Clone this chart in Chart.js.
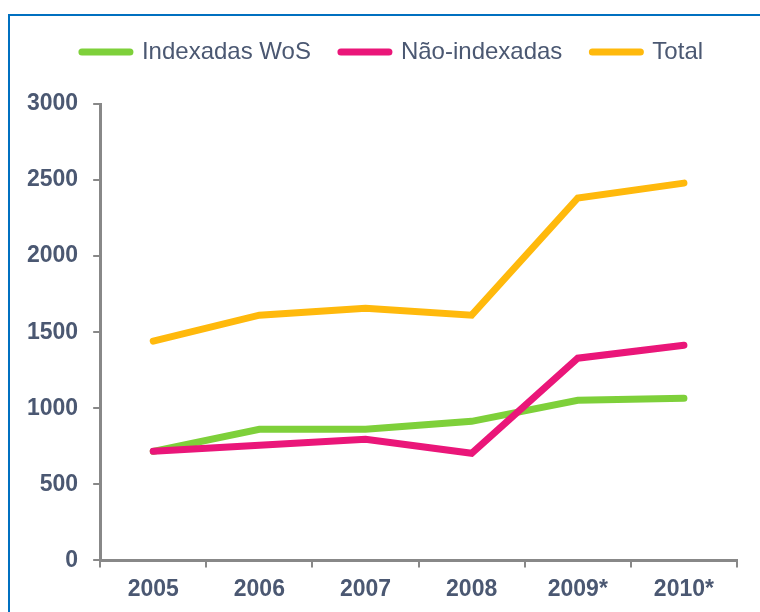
<!DOCTYPE html>
<html>
<head>
<meta charset="utf-8">
<script src="https://cdn.jsdelivr.net/npm/chart.js@4.4.0/dist/chart.umd.min.js"></script>
<style>
  html, body { margin: 0; padding: 0; background: #fff; overflow: hidden; }
  #frame {
    position: absolute; left: 8px; top: 14px; width: 800px; height: 700px;
    border-left: 2px solid #0070C0; border-top: 2px solid #0070C0;
  }
  #wrap { position: absolute; left: 0; top: 0; width: 760px; height: 612px; }
</style>
</head>
<body>
<div id="frame"></div>
<div id="wrap"><canvas id="chart" width="760" height="612"></canvas></div>
<script>
// data
const years = ['2005', '2006', '2007', '2008', '2009*', '2010*'];
const indexadas = [717, 862, 862, 914, 1053, 1066];
const naoIndexadas = [717, 757, 796, 704, 1329, 1414];
const total = [1441, 1612, 1658, 1612, 2382, 2480];
const yTicks = [0, 500, 1000, 1500, 2000, 2500, 3000];

const textColor = '#4B5872';
const axisColor = '#888888';
const fontFamily = 'Liberation Sans, Arial, sans-serif';

// legend sits a bit right of centre and leaves a gap above the plot
const legendTweak = {
    id: 'legendTweak',
    beforeInit(chart) {
        const legend = chart.legend;
        const fit = legend.fit;
        legend.fit = function() {
            fit.call(this);
            this.height += 30;
        };
    },
    afterLayout(chart) {
        chart.legend.left += 18;
        chart.legend.right += 18;
    }
};

document.addEventListener('DOMContentLoaded', function() {
    const ctx = document.getElementById('chart').getContext('2d');

    function line(label, data, color, order) {
        return {
            label: label,
            data: data,
            borderColor: color,
            backgroundColor: color,
            borderWidth: 7,
            borderCapStyle: 'round',
            pointRadius: 0,
            tension: 0,
            order: order
        };
    }

    new Chart(ctx, {
        type: 'line',
        data: {
            labels: years,
            datasets: [
                line('Indexadas WoS', indexadas, '#7ED03A', 2),
                line('Não-indexadas', naoIndexadas, '#EA1679', 1),
                line('Total', total, '#FFB90C', 3)
            ]
        },
        plugins: [legendTweak],
        options: {
            responsive: false,
            animation: false,
            layout: { padding: { left: 12, right: 23, top: 10, bottom: 1 } },
            plugins: {
                tooltip: { enabled: false },
                legend: {
                    position: 'top',
                    labels: {
                        usePointStyle: true,
                        pointStyleWidth: 48,
                        padding: 30,
                        color: textColor,
                        font: { family: fontFamily, size: 24 },
                        generateLabels: chart => chart.data.datasets.map((ds, i) => ({
                            text: ds.label,
                            fillStyle: ds.borderColor,
                            strokeStyle: ds.borderColor,
                            lineWidth: 7,
                            lineCap: 'round',
                            pointStyle: 'line',
                            fontColor: textColor,
                            hidden: false,
                            datasetIndex: i
                        }))
                    }
                }
            },
            scales: {
                x: {
                    offset: true,
                    grid: {
                        offset: true,
                        drawOnChartArea: false,
                        color: axisColor,
                        lineWidth: 2,
                        tickLength: 7
                    },
                    border: { color: axisColor, width: 3 },
                    ticks: {
                        color: textColor,
                        padding: 8,
                        font: { family: fontFamily, size: 23, weight: 'bold' }
                    }
                },
                y: {
                    min: 0,
                    max: 3000,
                    afterBuildTicks: axis => { axis.ticks = yTicks.map(v => ({ value: v })); },
                    grid: {
                        drawOnChartArea: false,
                        color: axisColor,
                        lineWidth: 2,
                        tickLength: 7
                    },
                    border: { color: axisColor, width: 3 },
                    ticks: {
                        color: textColor,
                        padding: 15,
                        callback: v => String(v),
                        font: { family: fontFamily, size: 23, weight: 'bold' }
                    }
                }
            }
        }
    });
});
</script>
</body>
</html>
